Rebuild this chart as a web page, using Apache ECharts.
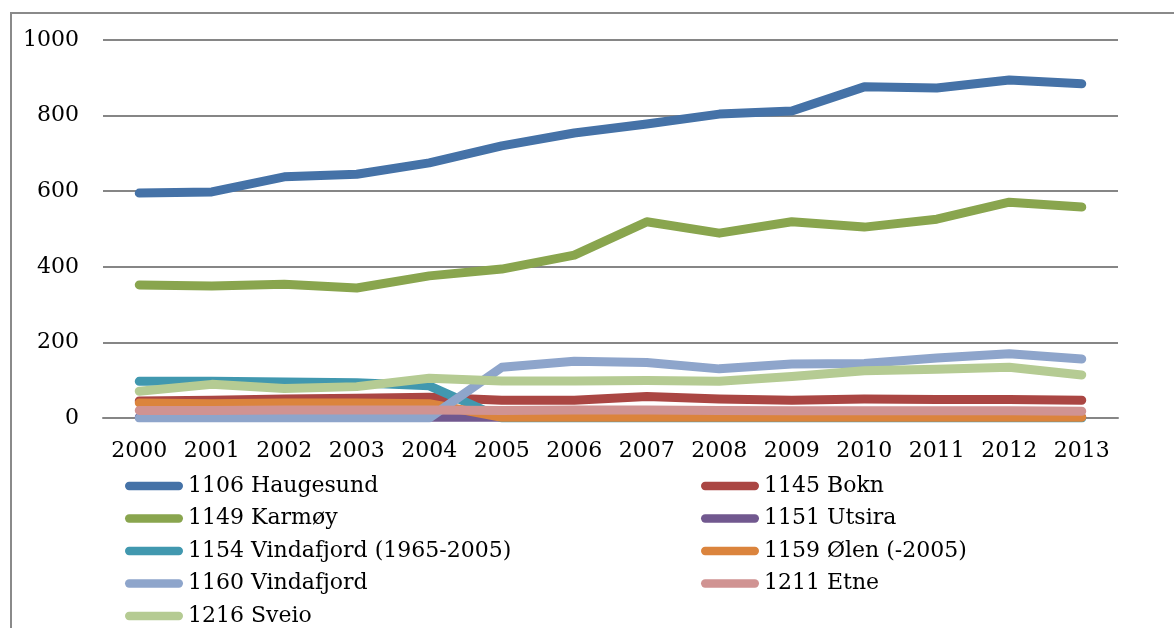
<!DOCTYPE html>
<html>
<head>
<meta charset="utf-8">
<script src="https://cdn.jsdelivr.net/npm/echarts@6/dist/echarts.min.js"></script>
<style>
  html, body { margin: 0; padding: 0; background: #fff; }
  #chart { width: 1174px; height: 628px; }
</style>
</head>
<body>
<div id="chart"></div>
<script>
// Years on the category axis
const years = ['2000','2001','2002','2003','2004','2005','2006','2007','2008','2009','2010','2011','2012','2013'];
const yTicks = [0, 200, 400, 600, 800, 1000];

// One array per municipality
const haugesund   = [595, 598, 638, 645, 675, 720, 754, 778, 804, 812, 876, 873, 894, 884];
const bokn        = [45, 47, 50, 52, 55, 47, 47, 57, 50, 47, 50, 49, 49, 47];
const karmoy      = [352, 349, 354, 344, 376, 394, 431, 519, 489, 519, 505, 526, 571, 558];
const utsira      = [2, 2, 2, 2, 2, 2, 2, 2, 2, 2, 2, 2, 2, 2];
const vindafjord1 = [97, 97, 95, 93, 85, 0, 0, 0, 0, 0, 0, 0, 0, 0];
const olen        = [40, 38, 40, 40, 38, 2, 2, 2, 2, 2, 2, 2, 2, 2];
const vindafjord2 = [0, 0, 0, 0, 0, 134, 150, 147, 130, 143, 144, 159, 170, 156];
const etne        = [20, 20, 21, 21, 21, 20, 21, 21, 20, 19, 19, 19, 19, 18];
const sveio       = [71, 89, 78, 83, 105, 98, 98, 99, 97, 110, 125, 129, 134, 114];

const names = ['1106 Haugesund', '1145 Bokn', '1149 Karmøy', '1151 Utsira',
  '1154 Vindafjord (1965-2005)', '1159 Ølen (-2005)', '1160 Vindafjord', '1211 Etne', '1216 Sveio'];
const values = [haugesund, bokn, karmoy, utsira, vindafjord1, olen, vindafjord2, etne, sveio];
const colors = ['#4572A7', '#AA4643', '#89A54E', '#71588F', '#4198AF', '#DB843D', '#8EA5CB', '#D09392', '#B5CB93'];

const FONT = 'DejaVu Serif';
const GRID = '#868686';
const pill = 'path://M4,0 L52,0 A4,4 0 0 1 52,8 L4,8 A4,4 0 0 1 4,0 Z';

const series = names.map((n, i) => ({
  name: n,
  type: 'line',
  data: values[i],
  symbol: 'none',
  smooth: false,
  animation: false,
  lineStyle: { width: 9, color: colors[i], cap: 'round', join: 'round' },
  itemStyle: { color: colors[i] }
}));

// Two legend columns; the left one continues on a fifth row below the fold
const ROW = 32.5;
const legendBase = {
  orient: 'vertical',
  padding: 0,
  itemWidth: 58,
  itemHeight: 9,
  itemGap: ROW - 22,
  icon: pill,
  textStyle: { fontFamily: FONT, fontSize: 22, color: '#000', lineHeight: 22 }
};
const LEGEND_TOP = 475;

const chart = echarts.init(document.getElementById('chart'), null, { renderer: 'canvas' });
chart.setOption({
  backgroundColor: '#fff',
  animation: false,
  color: colors,
  graphic: [{
    type: 'rect',
    shape: { x: 11, y: 13, width: 1300, height: 800 },
    style: { fill: 'none', stroke: '#8a8a8a', lineWidth: 2 },
    silent: true
  }],
  grid: { left: 103, right: 56, top: 40, bottom: 210, containLabel: false },
  legend: [
    Object.assign({}, legendBase, { left: 125, top: LEGEND_TOP, data: [names[0], names[2], names[4], names[6]] }),
    Object.assign({}, legendBase, { left: 125, top: LEGEND_TOP + 4 * ROW, data: [names[8]] }),
    Object.assign({}, legendBase, { left: 701, top: LEGEND_TOP, data: [names[1], names[3], names[5], names[7]] })
  ],
  xAxis: {
    type: 'category',
    data: years,
    boundaryGap: true,
    axisLine: { lineStyle: { color: GRID, width: 2 } },
    axisTick: { show: false },
    axisLabel: { fontFamily: FONT, fontSize: 22, color: '#000', margin: 22, interval: 0 }
  },
  yAxis: {
    type: 'value',
    min: yTicks[0],
    max: yTicks[yTicks.length - 1],
    interval: 200,
    axisLine: { show: false },
    axisTick: { show: false },
    splitLine: { lineStyle: { color: GRID, width: 2 } },
    axisLabel: { fontFamily: FONT, fontSize: 22, color: '#000', margin: 24, formatter: v => String(v) }
  },
  series: series
});
</script>
</body>
</html>
